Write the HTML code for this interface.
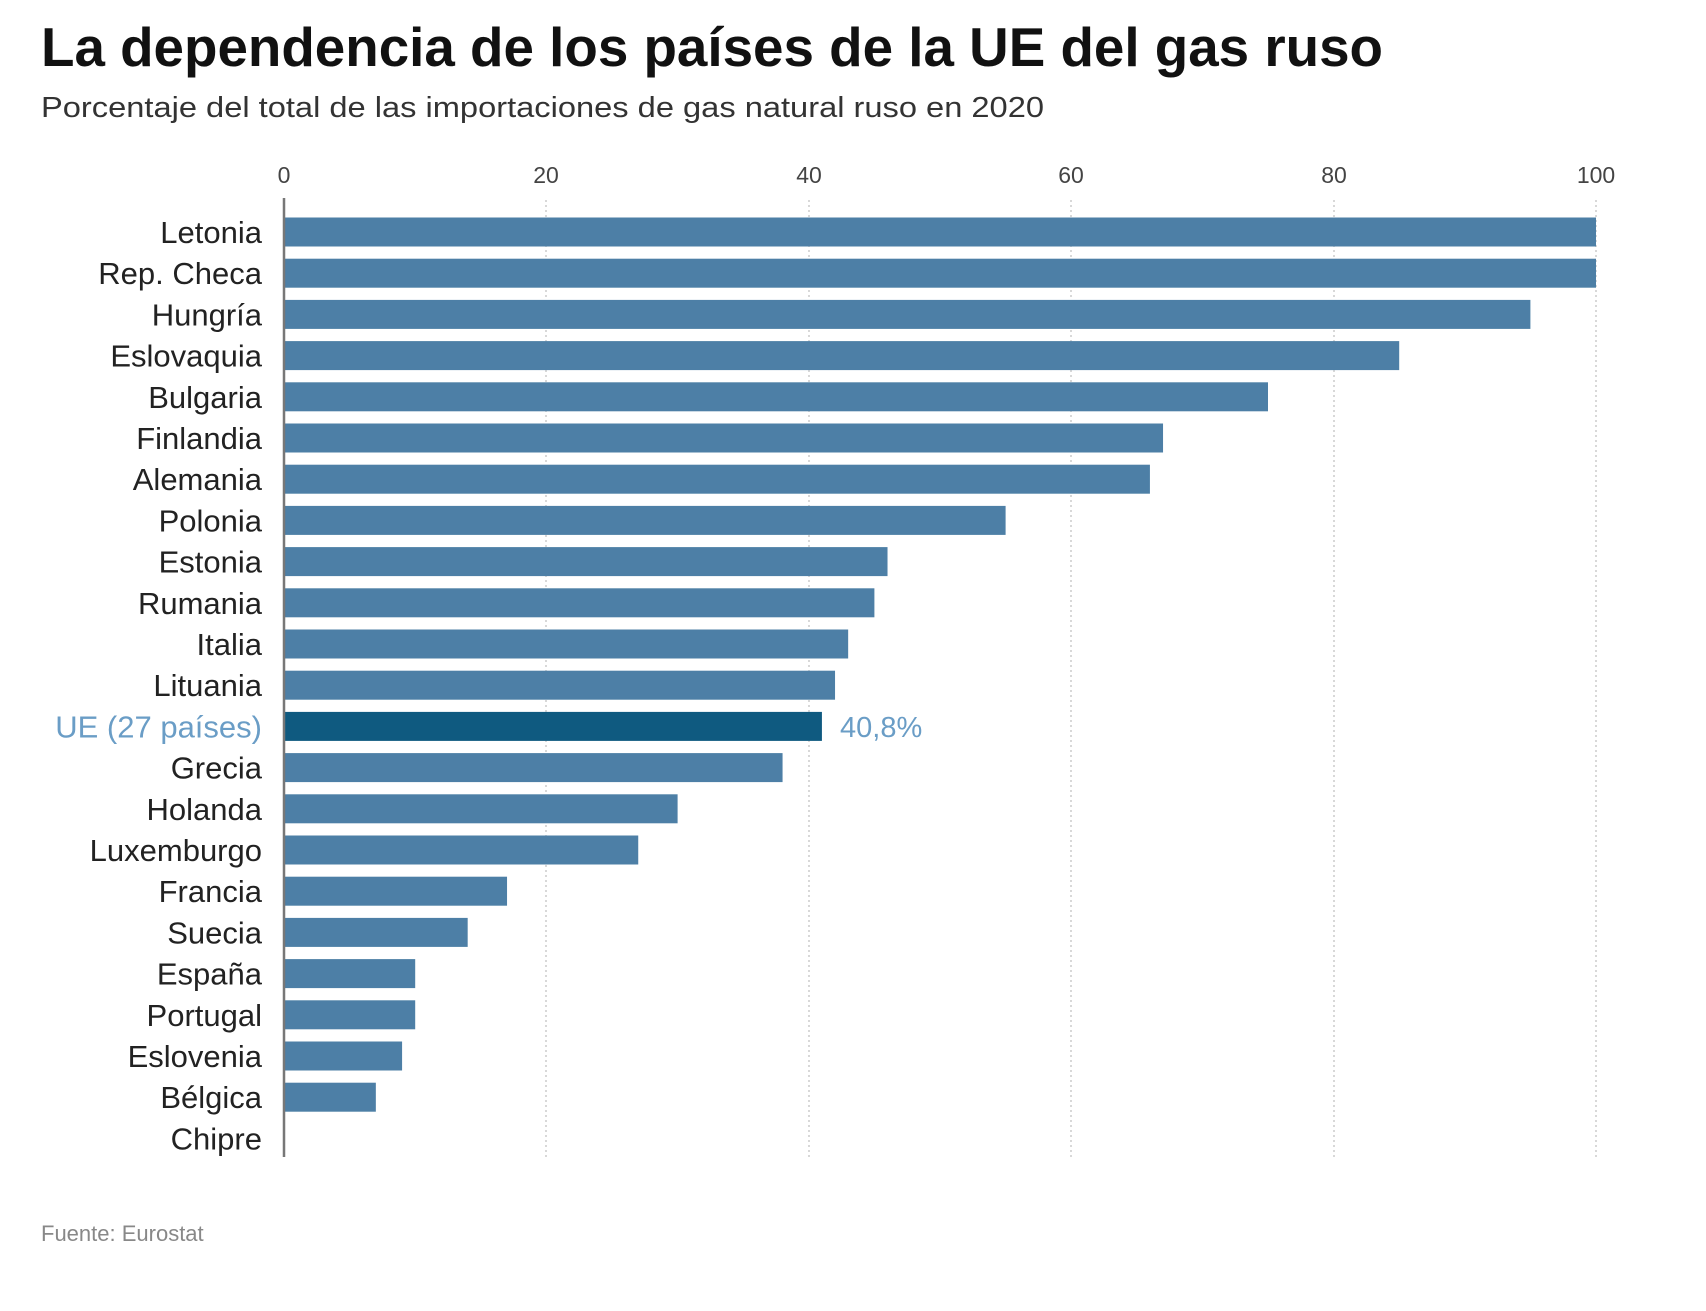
<!DOCTYPE html>
<html><head><meta charset="utf-8"><style>
html,body{margin:0;padding:0;background:#fff;}
svg{display:block;}
text{font-family:"Liberation Sans",sans-serif;}
</style></head><body>
<svg width="1706" height="1311" viewBox="0 0 1706 1311" xmlns="http://www.w3.org/2000/svg">
<text x="41" y="66" font-size="55" font-weight="bold" fill="#111" textLength="1342" lengthAdjust="spacingAndGlyphs">La dependencia de los países de la UE del gas ruso</text>
<text x="41" y="117" font-size="29" fill="#333" textLength="1003" lengthAdjust="spacingAndGlyphs">Porcentaje del total de las importaciones de gas natural ruso en 2020</text>
<g font-size="23" fill="#444" text-anchor="middle">
<text x="284" y="183">0</text><text x="546" y="183">20</text><text x="809" y="183">40</text><text x="1071" y="183">60</text><text x="1334" y="183">80</text><text x="1596" y="183">100</text>
</g>
<g stroke="#ccc" stroke-width="1.5" stroke-dasharray="2,3">
<line x1="546" y1="200" x2="546" y2="1157"/><line x1="809" y1="200" x2="809" y2="1157"/><line x1="1071" y1="200" x2="1071" y2="1157"/><line x1="1334" y1="200" x2="1334" y2="1157"/><line x1="1596" y1="200" x2="1596" y2="1157"/>
</g>
<g id="bars" fill="#4d7fa6"></g>
<line x1="284" y1="198" x2="284" y2="1157" stroke="#777" stroke-width="2.5"/>
<g id="labels" font-size="31" fill="#222" text-anchor="end"></g>
<text x="840" y="737" font-size="29" fill="#6a9dc6">40,8%</text>
<text x="41" y="1241" font-size="22" fill="#888">Fuente: Eurostat</text>
<script>
var d=[["Letonia",100],["Rep. Checa",100],["Hungría",95],["Eslovaquia",85],["Bulgaria",75],["Finlandia",67],["Alemania",66],["Polonia",55],["Estonia",46],["Rumania",45],["Italia",43],["Lituania",42],["UE (27 países)",41],["Grecia",38],["Holanda",30],["Luxemburgo",27],["Francia",17],["Suecia",14],["España",10],["Portugal",10],["Eslovenia",9],["Bélgica",7],["Chipre",0]];
var ns="http://www.w3.org/2000/svg",b=document.getElementById("bars"),l=document.getElementById("labels");
d.forEach(function(r,i){var cy=232+i*41.2;
if(r[1]>0){var e=document.createElementNS(ns,"rect");e.setAttribute("x",284);e.setAttribute("y",cy-14.5);e.setAttribute("width",r[1]*13.12);e.setAttribute("height",29);if(i==12)e.setAttribute("fill","#0f5a80");b.appendChild(e);}
var t=document.createElementNS(ns,"text");t.setAttribute("x",262);t.setAttribute("y",cy+11);t.textContent=r[0];if(i==12)t.setAttribute("fill","#6a9dc6");l.appendChild(t);});
</script>
</svg>
</body></html>
